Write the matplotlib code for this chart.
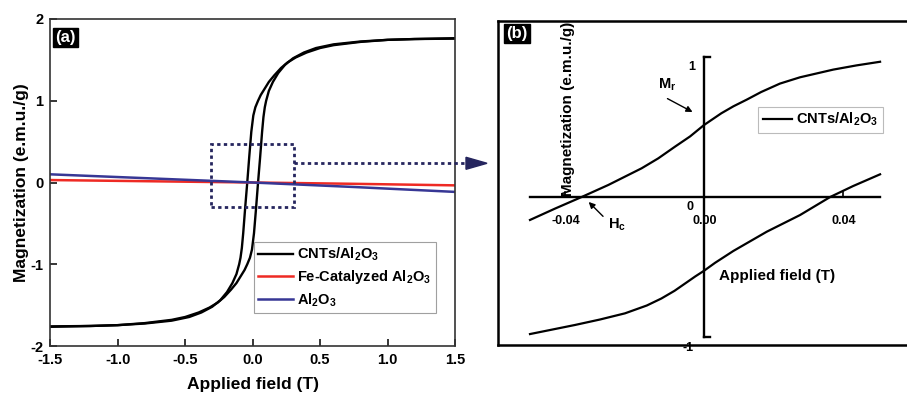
import matplotlib
matplotlib.use('Agg')
import matplotlib.pyplot as plt
from matplotlib.patches import Rectangle, Polygon
from matplotlib.lines import Line2D

plt.rcParams['font.family'] = ['Liberation Sans', 'DejaVu Sans']
plt.rcParams['font.weight'] = 'bold'
plt.rcParams['mathtext.fontset'] = 'custom'
plt.rcParams['mathtext.bf'] = 'Liberation Sans:bold'
plt.rcParams['mathtext.rm'] = 'Liberation Sans:bold'
plt.rcParams['mathtext.default'] = 'bf'

# ---------------- data: panel (a) ----------------
h_up_a = [1.5, 1.2, 1.0, 0.8, 0.6, 0.5, 0.4, 0.32, 0.26, 0.21, 0.16, 0.12, 0.09, 0.06,
          0.04, 0.02, 0.005, -0.01, -0.025, -0.04, -0.055, -0.07, -0.08, -0.09, -0.1,
          -0.12, -0.15, -0.19, -0.24, -0.3, -0.38, -0.47, -0.6, -0.8, -1.0, -1.2, -1.5]
m_up_a = [1.76, 1.755, 1.745, 1.72, 1.68, 1.645, 1.59, 1.53, 1.47, 1.40, 1.31, 1.23, 1.15, 1.07,
          1.00, 0.92, 0.82, 0.62, 0.32, 0.0, -0.30, -0.62, -0.80, -0.92, -1.00,
          -1.12, -1.23, -1.34, -1.44, -1.52, -1.59, -1.645, -1.69, -1.725, -1.745, -1.755, -1.765]
h_lo_a = [-1.5, -1.2, -1.0, -0.8, -0.6, -0.5, -0.4, -0.32, -0.26, -0.21, -0.16, -0.12, -0.09, -0.06,
          -0.04, -0.02, -0.005, 0.01, 0.025, 0.04, 0.055, 0.07, 0.08, 0.09, 0.1,
          0.12, 0.15, 0.19, 0.24, 0.3, 0.38, 0.47, 0.6, 0.8, 1.0, 1.2, 1.5]
m_lo_a = [-1.76, -1.755, -1.745, -1.72, -1.68, -1.645, -1.59, -1.53, -1.47, -1.40, -1.31, -1.23, -1.15, -1.07,
          -1.00, -0.92, -0.82, -0.62, -0.32, 0.0, 0.30, 0.62, 0.80, 0.92, 1.00,
          1.12, 1.23, 1.34, 1.44, 1.52, 1.59, 1.645, 1.69, 1.725, 1.745, 1.755, 1.765]

h_lin = [-1.5, -0.75, 0.0, 0.75, 1.5]
m_fe = [0.03, 0.015, 0.0, -0.016, -0.035]
m_al = [0.10, 0.05, 0.0, -0.055, -0.115]

labels_a = [r'CNTs/Al$_2$O$_3$', r'Fe-Catalyzed Al$_2$O$_3$', r'Al$_2$O$_3$']
xticks_a = [-1.5, -1.0, -0.5, 0.0, 0.5, 1.0, 1.5]
xticklabels_a = ['-1.5', '-1.0', '-0.5', '0.0', '0.5', '1.0', '1.5']
yticks_a = [-2, -1, 0, 1, 2]
yticklabels_a = ['-2', '-1', '0', '1', '2']

# ---------------- data: panel (b) ----------------
h_up_b = [-0.0502, -0.0430, -0.0353, -0.0276, -0.018, -0.0132, -0.0084, -0.004, 0.0,
          0.0025, 0.0050, 0.0085, 0.0123, 0.0165, 0.0219, 0.0277, 0.0373, 0.0440, 0.0508]
m_up_b = [-0.164, -0.083, 0.0, 0.086, 0.205, 0.276, 0.359, 0.433, 0.514,
          0.556, 0.598, 0.648, 0.695, 0.750, 0.810, 0.855, 0.910, 0.940, 0.966]
h_lo_b = [-0.0502, -0.0440, -0.0372, -0.0300, -0.0228, -0.0165, -0.0123, -0.0085, -0.0050,
          -0.0025, 0.0, 0.0032, 0.0085, 0.0181, 0.0277, 0.0364, 0.0430, 0.0508]
m_lo_b = [-0.979, -0.948, -0.914, -0.875, -0.831, -0.775, -0.725, -0.670, -0.610,
          -0.567, -0.527, -0.470, -0.385, -0.248, -0.129, 0.0, 0.078, 0.162]

xticks_b = [-0.04, 0.0, 0.04]
xticklabels_b = ['-0.04', '0.00', '0.04']

# ---------------- figure ----------------
W, H = 907, 395
fig = plt.figure(figsize=(W / 100, H / 100), dpi=100)
fig.patch.set_facecolor('white')

def rect(l, t, r, b):
    return [l / W, 1 - b / H, (r - l) / W, (b - t) / H]

ax1 = fig.add_axes(rect(50.3, 19, 455, 346))
ax1.plot(h_up_a, m_up_a, color='black', lw=1.7, label=labels_a[0])
ax1.plot(h_lo_a, m_lo_a, color='black', lw=1.7)
ax1.plot(h_lin, m_fe, color='#ee2a24', lw=1.8, label=labels_a[1])
ax1.plot(h_lin, m_al, color='#373795', lw=1.8, label=labels_a[2])
ax1.set_xlim(-1.5, 1.5)
ax1.set_ylim(-2, 2)
ax1.set_xticks(xticks_a)
ax1.set_xticklabels(xticklabels_a)
ax1.set_yticks(yticks_a)
ax1.set_yticklabels(yticklabels_a)
ax1.tick_params(direction='in', length=5, width=1.1, labelsize=10.5, top=False, right=False, pad=5)
for s in ax1.spines.values():
    s.set_linewidth(1.2)
    s.set_color('#333333')
ax1.set_xlabel('Applied field (T)', fontsize=12.5, fontweight='bold', labelpad=7)
ax1.set_ylabel('Magnetization (e.m.u./g)', fontsize=12.5, fontweight='bold', labelpad=1)
leg = ax1.legend(loc='lower right', bbox_to_anchor=(0.9525, 0.10), fontsize=10.5, frameon=True,
                 fancybox=False, edgecolor='#888888', handlelength=2.4, handletextpad=0.3,
                 borderpad=0.3, labelspacing=0.35, borderaxespad=0)
leg.get_frame().set_linewidth(0.8)

# zoom rectangle
ax1.add_patch(Rectangle((-0.31, -0.30), 0.62, 0.77, fill=False, ls=(0, (1.2, 1.2)),
                        lw=2.0, edgecolor='#25255e', zorder=5))
ax1.text(0.012, 0.965, '(a)', transform=ax1.transAxes, ha='left', va='top', color='white',
         fontsize=12, fontweight='bold',
         bbox=dict(boxstyle='square,pad=0.12', fc='black', ec='black'))

# dotted connector and arrow head (figure pixel coordinates)
x0 = ax1.transData.transform((0.31, 0.235))
y_pix = x0[1]
fig.add_artist(Line2D([x0[0] / W, 468 / W], [y_pix / H, y_pix / H], ls=(0, (1.2, 1.2)), lw=2.0,
                      color='#25255e'))
fig.add_artist(Polygon([(466 / W, (y_pix + 6) / H), (466 / W, (y_pix - 6) / H), (487 / W, y_pix / H)],
                       closed=True, color='#25255e', transform=fig.transFigure))

# ---------------- panel (b) ----------------
ax2 = fig.add_axes(rect(498, 21.3, 907, 345))
ax2.set_xlim((498 - 704) / 3466, (907 - 704) / 3466)
ax2.set_ylim((197 - 345) / 140, (197 - 21.3) / 140)
ax2.set_xticks([])
ax2.set_yticks([])
for k, s in ax2.spines.items():
    s.set_linewidth(1.8)
    s.set_color('black')
ax2.spines['right'].set_visible(False)

ax2.plot([-0.0502, 0.0508], [0, 0], color='black', lw=1.7)
ax2.plot([0, 0], [-1, 1], color='black', lw=1.7)
ax2.plot([0, 0.0017], [1, 1], color='black', lw=1.7)
ax2.plot([0, 0.0017], [-1, -1], color='black', lw=1.7)
for xt, xl in zip(xticks_b, xticklabels_b):
    ax2.plot([xt, xt], [0, 0.035], color='black', lw=1.2)
    ax2.text(xt + 0.0002, -0.13, xl, ha='center', va='top', fontsize=9)
ax2.text(-0.0035, 0.93, '1', ha='center', va='center', fontsize=9)
ax2.text(-0.0045, -1.08, '-1', ha='center', va='center', fontsize=9)
ax2.text(-0.004, -0.07, '0', ha='center', va='center', fontsize=9)

ax2.plot(h_up_b, m_up_b, color='black', lw=1.6, label=r'CNTs/Al$_2$O$_3$')
ax2.plot(h_lo_b, m_lo_b, color='black', lw=1.6)

leg2 = ax2.legend(loc='upper left', bbox_to_anchor=((758.3 - 498) / 409, 1 - (106.7 - 21.3) / 323.7),
                  fontsize=10.5, frameon=True, fancybox=False, edgecolor='#aaaaaa', handlelength=2.0,
                  handletextpad=0.3, borderpad=0.3, borderaxespad=0)
leg2.get_frame().set_linewidth(0.8)

ax2.text((568 - 704) / 3466, (197 - 109) / 140, 'Magnetization (e.m.u./g)', rotation=90,
         ha='center', va='center', fontsize=11)
ax2.text((777 - 704) / 3466, (197 - 276) / 140, 'Applied field (T)', ha='center', va='center',
         fontsize=11)

ax2.annotate('', xy=((695 - 704) / 3466, (197 - 113.3) / 140),
             xytext=((665 - 704) / 3466, (197 - 97.3) / 140),
             arrowprops=dict(arrowstyle='-|>', color='black', lw=1.0, mutation_scale=9))
ax2.text((667 - 704) / 3466, (197 - 85) / 140, r'M$_r$', ha='center', va='center', fontsize=10.5)
ax2.annotate('', xy=((586.7 - 704) / 3466, (197 - 200) / 140),
             xytext=((605 - 704) / 3466, (197 - 218.3) / 140),
             arrowprops=dict(arrowstyle='-|>', color='black', lw=1.0, mutation_scale=9))
ax2.text((617 - 704) / 3466, (197 - 225) / 140, r'H$_c$', ha='center', va='center', fontsize=10.5)

ax2.text(0.02, 0.985, '(b)', transform=ax2.transAxes, ha='left', va='top', color='white',
         fontsize=12, fontweight='bold',
         bbox=dict(boxstyle='square,pad=0.12', fc='black', ec='black'))

fig.savefig('out.png', dpi=100)
